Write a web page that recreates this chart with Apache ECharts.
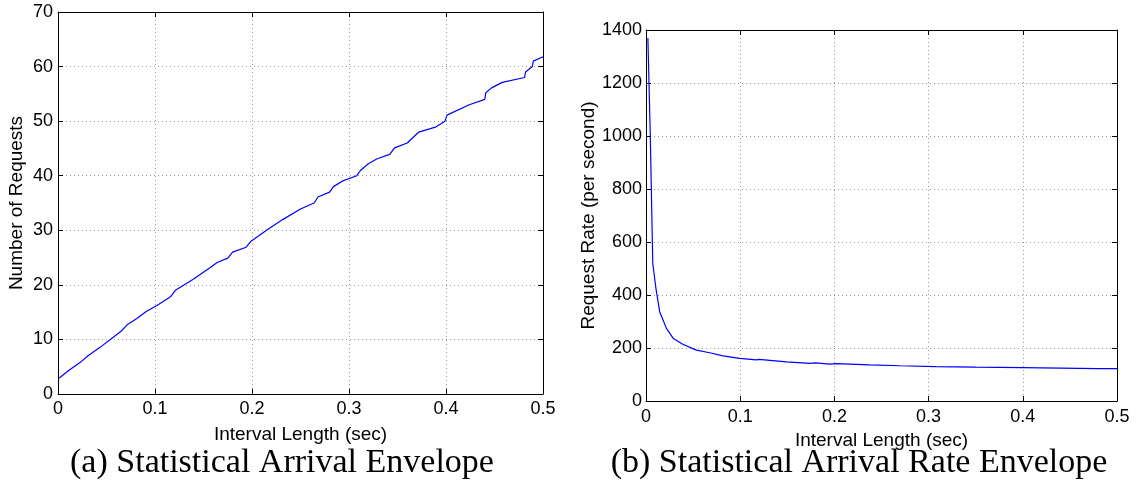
<!DOCTYPE html>
<html>
<head>
<meta charset="utf-8">
<script src="https://cdn.jsdelivr.net/npm/echarts@6/dist/echarts.min.js"></script>
<style>
html,body{margin:0;padding:0;background:#fff;}
#chart{width:1138px;height:487px;}
</style>
</head>
<body>
<div id="chart"></div>
<script>
// ---- data ----
// (a) cumulative number of requests vs interval length
const envelopeX = [0.001,0.011,0.023,0.031,0.043,0.057,0.065,0.072,0.081,0.091,0.102,0.116,0.121,0.139,0.157,0.164,0.175,0.180,0.194,0.199,0.215,0.232,0.250,0.264,0.268,0.280,0.284,0.293,0.308,0.312,0.320,0.329,0.342,0.347,0.360,0.372,0.389,0.399,0.401,0.424,0.440,0.441,0.447,0.458,0.481,0.482,0.489,0.490,0.500];
const envelopeY = [2.9,4.3,5.8,7.0,8.5,10.4,11.5,12.8,13.8,15.1,16.2,17.8,19.0,21.0,23.2,24.1,24.9,26.0,26.9,28.0,30.0,32.0,33.9,35.0,36.1,37.0,38.0,39.0,40.0,41.0,42.2,43.1,43.9,45.1,46.0,48.0,48.9,50.0,51.1,53.0,54.0,55.2,56.1,57.1,58.0,59.0,60.0,61.0,61.8];
// (b) request rate vs interval length
const rateX = [0.002,0.0045,0.0072,0.0103,0.0145,0.0217,0.0287,0.039,0.0535,0.0676,0.0817,0.0995,0.117,0.120,0.149,0.174,0.180,0.195,0.202,0.2375,0.270,0.308,0.350,0.400,0.440,0.480,0.500];
const rateY = [1370,1010,520,431,337,274,237,214,192,182,170,161,155,157,148,142,144,139,141,136,133,130,128,126,124,122,122];

const xTicks = [0,0.1,0.2,0.3,0.4,0.5];
const yTicksA = [0,10,20,30,40,50,60,70];
const yTicksB = [0,200,400,600,800,1000,1200,1400];

const xTitle = 'Interval Length (sec)';
const yTitleA = 'Number of Requests';
const yTitleB = 'Request Rate (per second)';
const captionA = '(a) Statistical Arrival Envelope';
const captionB = '(b) Statistical Arrival Rate Envelope';

// ---- build ----
const sans = '"Liberation Sans", Arial, Helvetica, sans-serif';
const serif = '"Liberation Serif", "Times New Roman", serif';
const zip = (xs, ys) => xs.map((x, i) => [x, ys[i]]);

function axisCommon(ticks, showLabel, margin) {
  return {
    type: 'value',
    min: ticks[0],
    max: ticks[ticks.length - 1],
    interval: ticks[1] - ticks[0],
    axisLine: {show: true, onZero: false, lineStyle: {color: '#000', width: 1}},
    axisTick: {show: true, inside: true, length: 5, lineStyle: {color: '#000', width: 1}},
    axisLabel: {show: showLabel, color: '#000', fontFamily: sans, fontSize: 18, margin: margin, formatter: v => String(v)},
    splitLine: {show: false}
  };
}
function withGrid(ax) {
  ax.splitLine = {show: true, lineStyle: {color: '#999', type: [1, 3], width: 1}};
  return ax;
}
function nameStyle() {
  return {color: '#000', fontFamily: sans, fontSize: 19};
}

const xAxes = [
  Object.assign(withGrid(axisCommon(xTicks, true, 6)), {gridIndex: 0, position: 'bottom',
    name: xTitle, nameLocation: 'middle', nameGap: 31, nameTextStyle: nameStyle()}),
  Object.assign(axisCommon(xTicks, false, 6), {gridIndex: 0, position: 'top'}),
  Object.assign(withGrid(axisCommon(xTicks, true, 7)), {gridIndex: 1, position: 'bottom',
    name: xTitle, nameLocation: 'middle', nameGap: 22, nameTextStyle: nameStyle()}),
  Object.assign(axisCommon(xTicks, false, 6), {gridIndex: 1, position: 'top'})
];
const yAxes = [
  Object.assign(withGrid(axisCommon(yTicksA, true, 5)), {gridIndex: 0, position: 'left',
    name: yTitleA, nameLocation: 'middle', nameGap: 32, nameTextStyle: nameStyle()}),
  Object.assign(axisCommon(yTicksA, false, 5), {gridIndex: 0, position: 'right'}),
  Object.assign(withGrid(axisCommon(yTicksB, true, 4)), {gridIndex: 1, position: 'left',
    name: yTitleB, nameLocation: 'middle', nameGap: 48, nameTextStyle: nameStyle()}),
  Object.assign(axisCommon(yTicksB, false, 4), {gridIndex: 1, position: 'right'})
];

const option = {
  animation: false,
  backgroundColor: '#fff',
  grid: [
    {left: 58, top: 12, width: 485, height: 382, containLabel: false},
    {left: 646, top: 30, width: 471, height: 371, containLabel: false}
  ],
  xAxis: xAxes,
  yAxis: yAxes,
  series: [
    {type: 'line', xAxisIndex: 0, yAxisIndex: 0, data: zip(envelopeX, envelopeY),
     showSymbol: false, lineStyle: {color: '#0000ff', width: 1.2}, silent: true},
    {type: 'line', xAxisIndex: 2, yAxisIndex: 2, data: zip(rateX, rateY),
     showSymbol: false, lineStyle: {color: '#0000ff', width: 1.2}, silent: true}
  ],
  graphic: [
    {type: 'text', x: 282, y: 463, style: {text: captionA, font: '34px ' + serif, fill: '#000', align: 'center', verticalAlign: 'middle'}},
    {type: 'text', x: 859, y: 463, style: {text: captionB, font: '34px ' + serif, fill: '#000', align: 'center', verticalAlign: 'middle'}}
  ]
};

const chart = echarts.init(document.getElementById('chart'), null, {renderer: 'canvas'});
chart.setOption(option);
</script>
</body>
</html>
